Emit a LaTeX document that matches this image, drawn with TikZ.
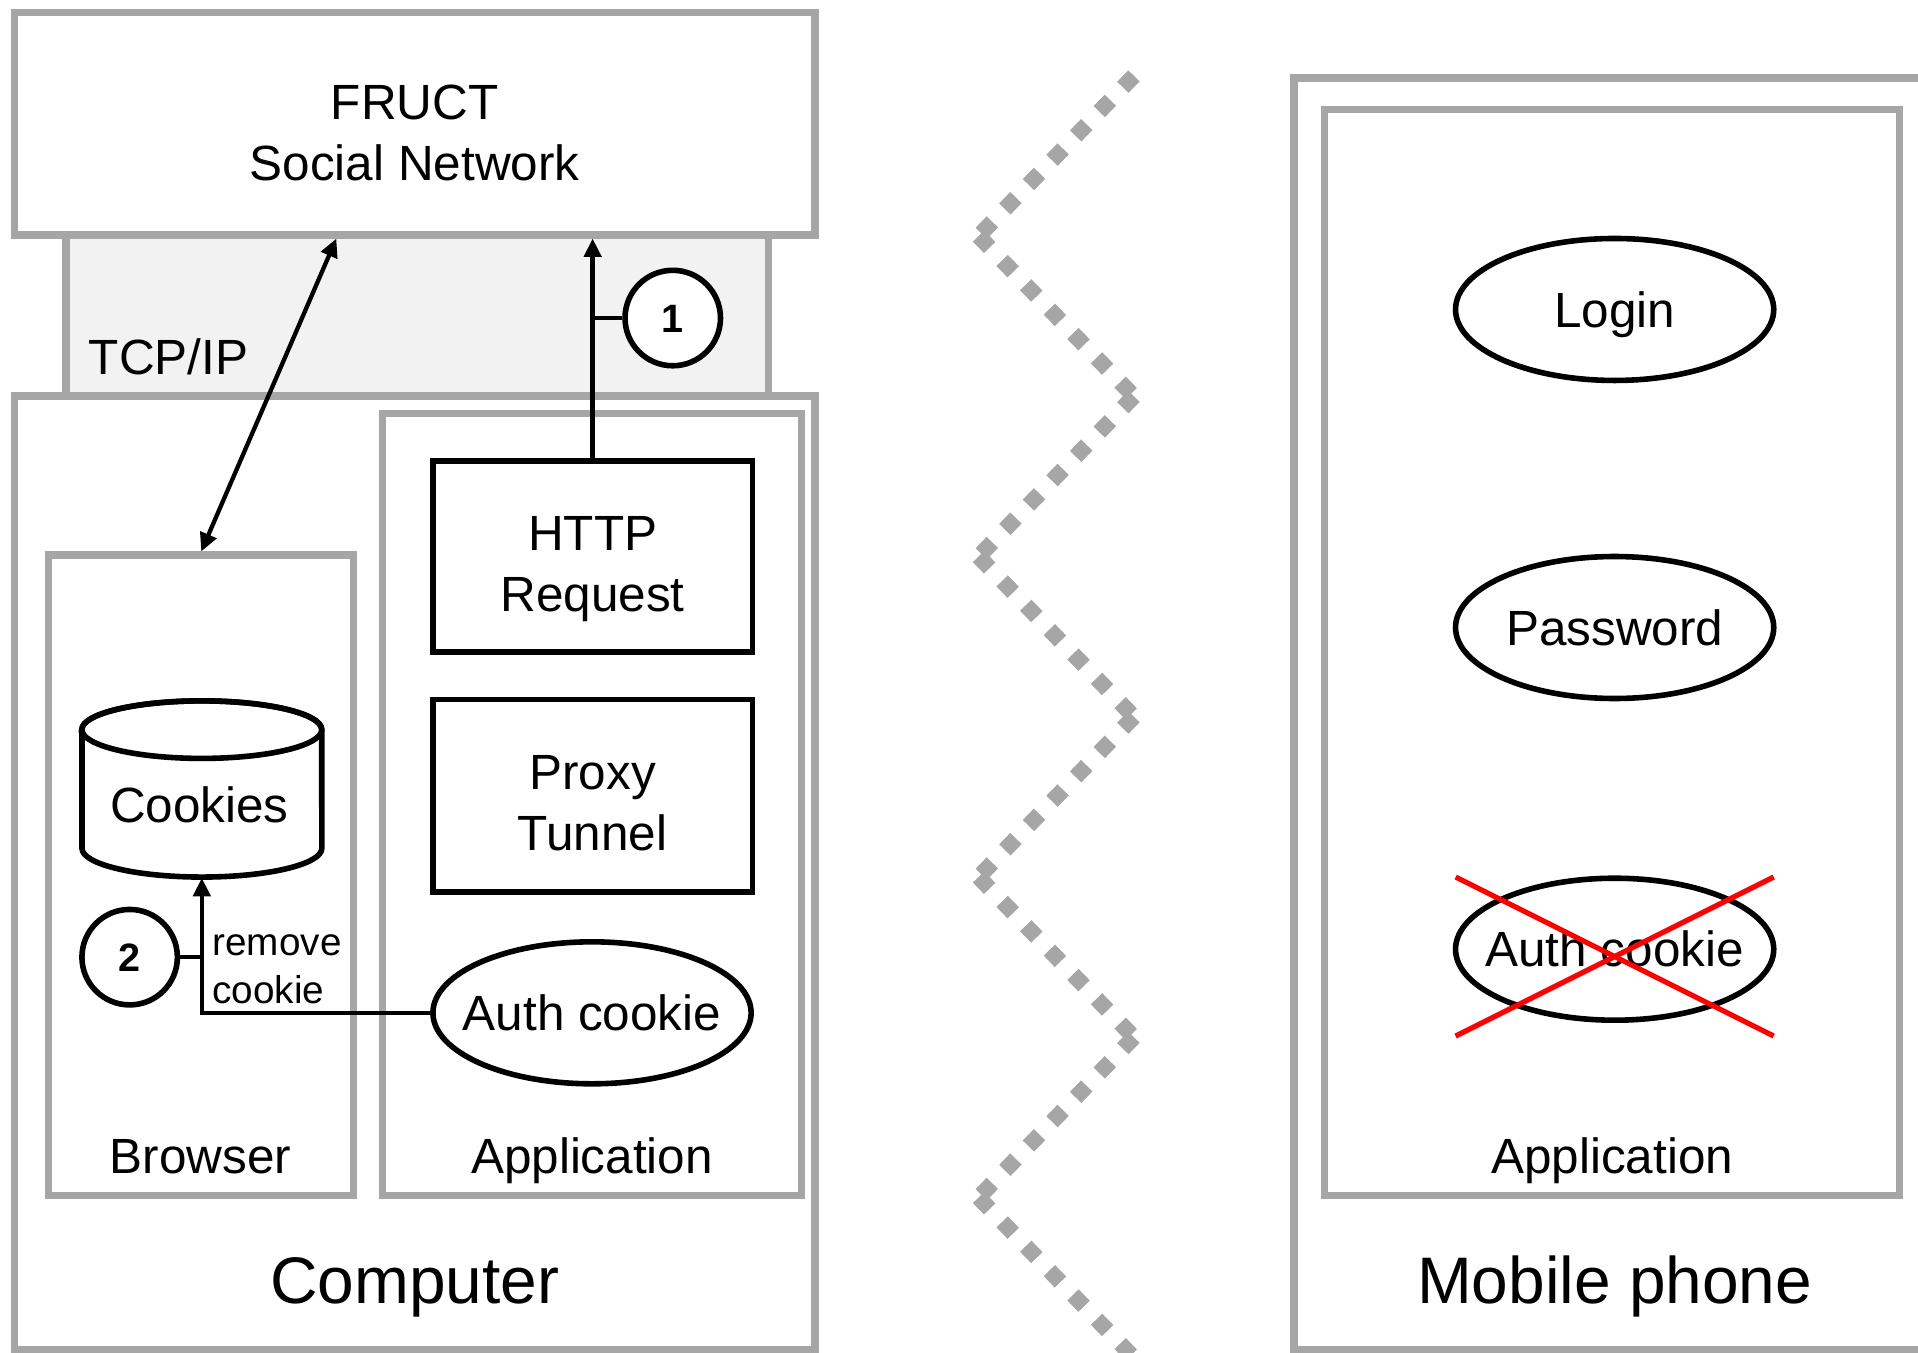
\documentclass[tikz,border=0pt]{standalone}
\usepackage{fontspec}
\setmainfont{Liberation Sans}
\usetikzlibrary{shapes.geometric,arrows.meta,calc}
\definecolor{frame}{HTML}{A6A6A6}
\definecolor{band}{HTML}{F2F2F2}
\tikzset{
  graybox/.style={draw=frame, line width=1.7pt, fill=white, rectangle, inner sep=0pt},
  blackbox/.style={draw=black, line width=1.3pt, fill=white, rectangle, inner sep=0pt},
  oval/.style={draw=black, line width=1.3pt, fill=white, ellipse, inner sep=0pt,
    minimum width=2.6cm, minimum height=1.16cm},
  badge/.style={draw=black, line width=1.3pt, fill=white, circle, inner sep=0pt,
    minimum size=0.78cm, font=\fontsize{9.2}{11}\selectfont\bfseries,
    text height=6.6pt, text depth=0pt},
  txt/.style={inner sep=0pt, font=\fontsize{11.5}{14.2}\selectfont, align=center},
  plain/.style={inner sep=0pt, font=\fontsize{11.5}{14.2}\selectfont},
  lbl/.style={inner sep=0pt, font=\fontsize{11.5}{14.2}\selectfont, text height=8.2pt, text depth=0pt},
  note/.style={inner sep=0pt, font=\fontsize{9}{11}\selectfont, align=left},
  big/.style={inner sep=0pt, font=\fontsize{15.3}{18}\selectfont, text height=11pt, text depth=0pt},
  flow/.style={line width=1.0pt, -{Triangle[length=1.5mm, width=1.4mm]}},
  both/.style={line width=1.0pt, {Triangle[length=1.5mm, width=1.4mm]}-{Triangle[length=1.5mm, width=1.4mm]}},
  tick/.style={line width=0.9pt},
  zig/.style={draw=frame, line width=0.13cm, dash pattern=on 0.13cm off 0.147cm},
  cross/.style={draw=red, line width=1.2pt},
}
\begin{document}
\begin{tikzpicture}[x=0.01cm, y=-0.01cm]
\useasboundingbox (0,0) rectangle (1568,1106);
\clip (0,0) rectangle (1568,1106);

% network layer between server and computer
\node[draw=frame, line width=1.7pt, fill=band, rectangle, inner sep=0pt,
      minimum width=5.74cm, minimum height=1.40cm] (tcp) at (341,258) {};

% server
\node[graybox, minimum width=6.54cm, minimum height=1.82cm] (fruct) at (339,101) {};
\node[txt] (fructlbl) at (339,109) {FRUCT\\Social Network};
\node[plain, anchor=base west] (tcplbl) at (72,306.5) {TCP/IP};

% computer
\node[graybox, minimum width=6.54cm, minimum height=7.79cm] (computer) at (339,713.5) {};
\node[graybox, minimum width=2.49cm, minimum height=5.23cm] (browser) at (164.5,715.5) {};
\node[graybox, minimum width=3.42cm, minimum height=6.39cm] (app) at (484,657.5) {};

\node[blackbox, minimum width=2.61cm, minimum height=1.56cm] (http) at (484.5,455) {};
\node[txt] (httplbl) at (484.5,465) {HTTP\\Request};
\node[blackbox, minimum width=2.61cm, minimum height=1.57cm] (proxy) at (484.5,650.5) {};
\node[txt] (proxylbl) at (484.5,657) {Proxy\\Tunnel};
\node[oval] (auth) at (484,828) {};
\node[lbl] (authlbl) at (484,828) {Auth cookie};

% cookie store
\node[inner sep=0pt, minimum width=1.96cm, minimum height=1.44cm] (cookies) at (165,645) {};
\draw[line width=1.3pt, fill=white]
  (67,596.5) -- (67,693.5) arc[start angle=180, end angle=360, x radius=0.98cm, y radius=0.235cm]
  -- (263,596.5) arc[start angle=0, end angle=180, x radius=0.98cm, y radius=0.235cm] -- cycle;
\draw[line width=1.3pt] (165,596.5) ellipse[x radius=0.98cm, y radius=0.235cm];
\node[lbl] (cookieslbl) at (163,658) {Cookies};

\node[lbl] (browserlbl) at (164,945) {Browser};
\node[lbl] (applbl) at (484,945) {Application};
\node[big] (computerlbl) at (339,1046) {Computer};

% steps
\node[badge] (two) at (106,782.5) {2};
\node[note, anchor=west] (rmlbl) at (173,792.5) {remove\\cookie};
\draw[flow] (auth.west) -| (cookies.south);
\draw[tick] (two.east) -- (two.east -| cookies.south);

\draw[flow] (http.north) -- (http.north |- fruct.south);
\node[badge] (one) at (550,260) {1};
\draw[tick] (one.west) -- (one.west -| http.north);

\draw[both] ([xshift=-0.64cm]fruct.south) -- (browser.north);

% separator
\foreach \k in {0,...,3} {
  \draw[zig] (927,{62+262*\k}) -- (800,{193+262*\k});
  \draw[zig] (800,{193+262*\k}) -- (927,{324+262*\k});
}

% mobile phone
\node[graybox, minimum width=6.42cm, minimum height=10.39cm] (mobile) at (1379,583.5) {};
\node[graybox, minimum width=4.70cm, minimum height=8.87cm] (mapp) at (1318,533.5) {};
\node[oval] (login) at (1320,253) {};
\node[lbl] (loginlbl) at (1320,253) {Login};
\node[oval] (password) at (1320,513) {};
\node[lbl] (passwordlbl) at (1320,513) {Password};
\node[oval] (auth2) at (1320,776) {};
\node[lbl] (auth2lbl) at (1320,776) {Auth cookie};
\draw[cross] ([shift={(-130,-59)}]auth2.center) -- ([shift={(130,71)}]auth2.center);
\draw[cross] ([shift={(-130,71)}]auth2.center) -- ([shift={(130,-59)}]auth2.center);
\node[lbl] (mapplbl) at (1318,945) {Application};
\node[big] (mobilelbl) at (1320,1046) {Mobile phone};
\end{tikzpicture}
\end{document}
